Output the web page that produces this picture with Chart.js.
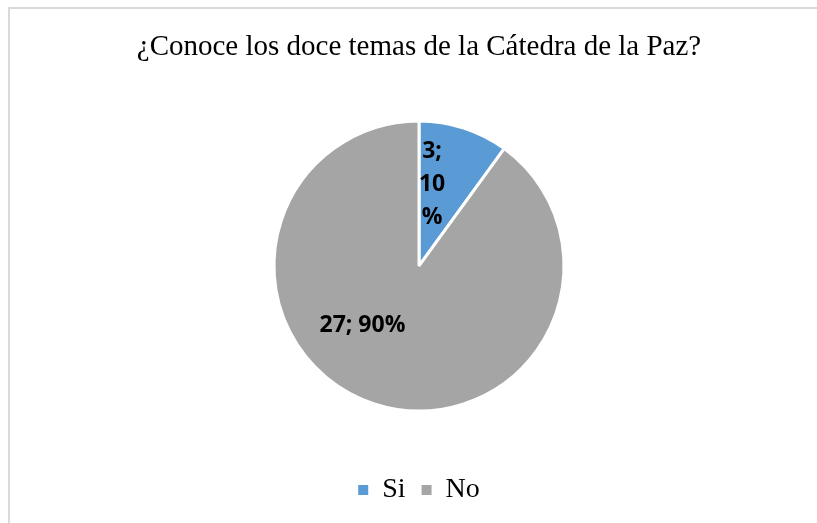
<!DOCTYPE html>
<html lang="es">
<head>
<meta charset="utf-8">
<title>Cátedra de la Paz</title>
<script src="https://cdn.jsdelivr.net/npm/chart.js@4.4.1/dist/chart.umd.min.js"></script>
<style>
  html, body { margin: 0; padding: 0; background: #fff; }
  .wrap { position: relative; width: 817px; height: 523px; overflow: hidden; }
  .frame { position: absolute; left: 8px; top: 7px; width: 900px; height: 600px;
           border-top: 2px solid #d9d9d9; border-left: 2px solid #d9d9d9; }
  canvas { position: absolute; left: 0; top: 0; }
</style>
</head>
<body>
<div class="wrap">
  <div class="frame"></div>
  <canvas id="pieChart" width="817" height="523"></canvas>
</div>
<script>
// datos de la encuesta
const titulo = '¿Conoce los doce temas de la Cátedra de la Paz?';
const respuestas = ['Si', 'No'];
const cantidades = [3, 27];
const colores = ['#5B9BD5', '#A5A5A5'];

// posicion de cada etiqueta (fraccion del radio, respecto al centro) y ancho max
const etiquetaPos = [[0.09, -0.56], [-0.39, 0.41]];
const etiquetaAncho = [32, Infinity];

function partirTexto(ctx, texto, maxW) {
  const lineas = [];
  let actual = '';
  texto.split(' ').forEach(palabra => {
    const prueba = actual ? actual + ' ' + palabra : palabra;
    if (ctx.measureText(prueba).width <= maxW) { actual = prueba; return; }
    if (actual) lineas.push(actual);
    actual = '';
    if (ctx.measureText(palabra).width <= maxW) { actual = palabra; return; }
    for (const ch of palabra) {
      if (actual && ctx.measureText(actual + ch).width > maxW) { lineas.push(actual); actual = ch; }
      else actual += ch;
    }
  });
  if (actual) lineas.push(actual);
  return lineas;
}

const etiquetas = {
  id: 'etiquetas',
  afterDatasetsDraw(chart) {
    const ctx = chart.ctx;
    const meta = chart.getDatasetMeta(0);
    const datos = chart.data.datasets[0].data;
    const total = datos.reduce((a, b) => a + b, 0);
    ctx.save();
    ctx.font = 'bold 23px "Open Sans", "Liberation Sans", sans-serif';
    ctx.fillStyle = '#000';
    ctx.textAlign = 'center';
    ctx.textBaseline = 'middle';
    meta.data.forEach((arc, i) => {
      const r = arc.outerRadius;
      const cx = arc.x + etiquetaPos[i][0] * r;
      const cy = arc.y + etiquetaPos[i][1] * r;
      const texto = datos[i] + '; ' + Math.round(datos[i] / total * 100) + '%';
      const lineas = partirTexto(ctx, texto, etiquetaAncho[i]);
      const alto = 33;
      lineas.forEach((l, k) => {
        ctx.fillText(l, cx, cy + (k - (lineas.length - 1) / 2) * alto);
      });
    });
    ctx.restore();
  }
};

new Chart(document.getElementById('pieChart').getContext('2d'), {
  type: 'pie',
  data: {
    labels: respuestas,
    datasets: [{
      data: cantidades,
      backgroundColor: colores,
      borderColor: '#ffffff',
      borderWidth: 3,
      radius: 145
    }]
  },
  options: {
    responsive: false,
    animation: false,
    layout: { padding: { left: 21, right: 0, top: 0, bottom: 9 } },
    plugins: {
      title: {
        display: true,
        text: titulo,
        color: '#000',
        font: { family: '"Liberation Serif", "Times New Roman", serif', size: 29, weight: 'normal' },
        padding: { top: 30, bottom: 7 }
      },
      legend: {
        position: 'bottom',
        labels: {
          color: '#000',
          boxWidth: 10,
          boxHeight: 10,
          padding: 16,
          font: { family: '"Liberation Serif", "Times New Roman", serif', size: 28 },
          generateLabels(chart) {
            const items = Chart.overrides.pie.plugins.legend.labels.generateLabels(chart);
            items.forEach(it => { it.lineWidth = 0; it.strokeStyle = it.fillStyle; });
            return items;
          }
        }
      },
      tooltip: { enabled: false }
    }
  },
  plugins: [etiquetas]
});
</script>
</body>
</html>
